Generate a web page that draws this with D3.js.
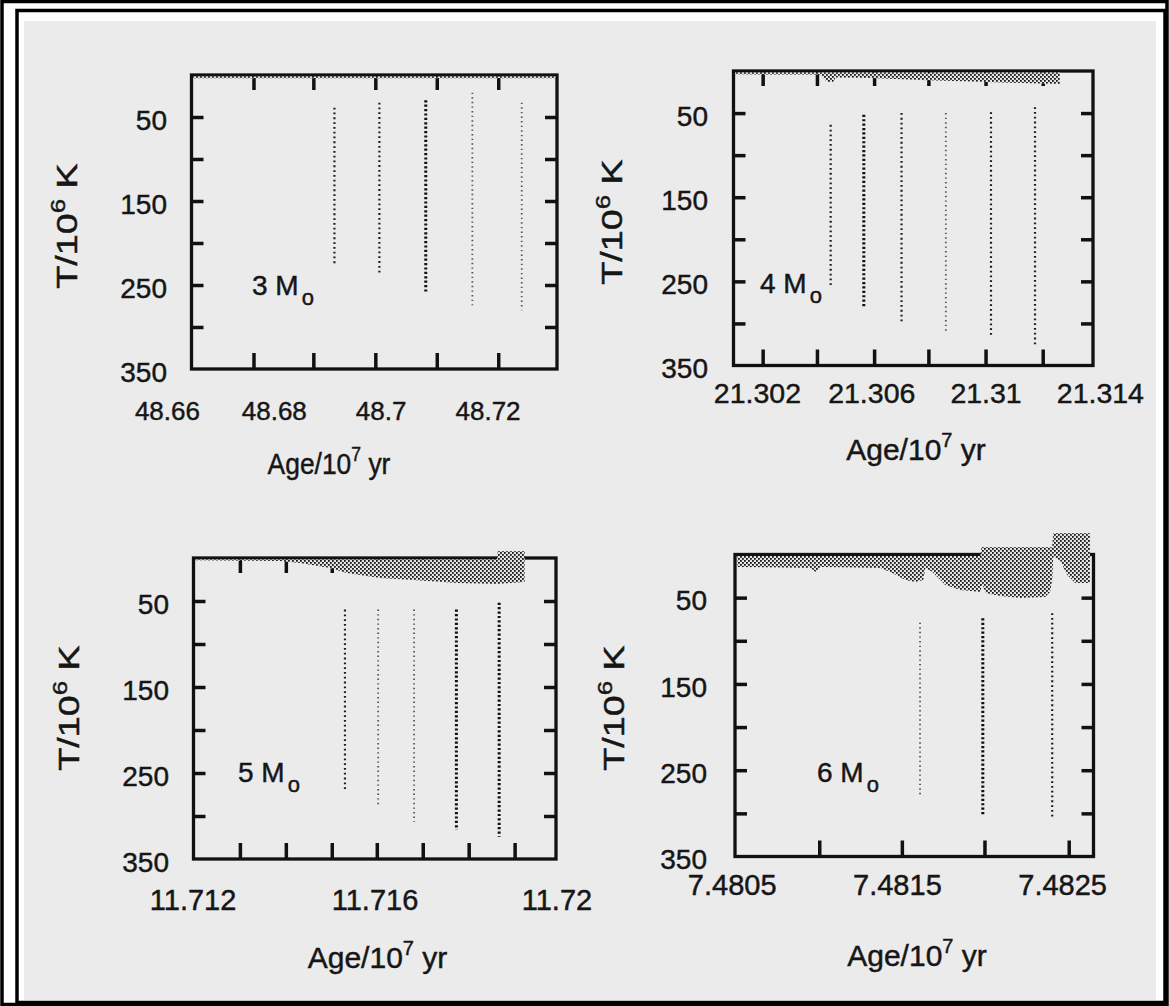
<!DOCTYPE html>
<html><head><meta charset="utf-8">
<script src="https://cdn.jsdelivr.net/npm/d3@7"></script>
<style>
body{margin:0;background:#fff}
svg{display:block}
text{font-family:"Liberation Sans",Arial,Helvetica,sans-serif;fill:#161616;stroke:#161616;stroke-width:0.45px}
</style>
</head><body>
<script>
// ---------------- DATA ----------------
const masses = ["3", "4", "5", "6"];
const yTickMarks = [50, 100, 150, 200, 250, 300];
const yTickLabels = [50, 150, 250, 350];

// panel 1 : 3 Msun
const xTickLabels1 = [48.66, 48.68, 48.70, 48.72];
const xTickMarks1 = [48.6762, 48.6874, 48.6990, 48.7105, 48.7220];
const lines1Age = [48.69135, 48.69976, 48.70844, 48.71716, 48.72640];
const lines1Top = [39, 33, 30, 21, 33];
const lines1Bot = [224, 236, 260, 274, 280];
const lines1Kind = ["m", "m", "b", "f", "f"];
const shade1Age = [48.6649, 48.7327];
const shade1Top = [0, 0];
const shade1Bot = [4, 4];

// panel 2 : 4 Msun
const xTickLabels2 = [21.302, 21.306, 21.310, 21.314];
const xTickMarks2 = [21.3022, 21.3041, 21.3061, 21.3080, 21.3100, 21.3120];
const lines2Age = [21.30458, 21.30574, 21.30706, 21.30861, 21.31019, 21.31173];
const lines2Top = [64, 52, 50, 50, 49, 43];
const lines2Bot = [258, 280, 298, 310, 316, 326];
const lines2Kind = ["m", "b", "m", "f", "m", "m"];
const shade2Age = [21.30124, 21.30420, 21.30431, 21.30445, 21.30466, 21.30476, 21.30595, 21.30770, 21.31005, 21.31180, 21.31260];
const shade2Top = [0, 0, 0, 0, 0, 0, 0, 0, 0, 0, 0];
const shade2Bot = [4, 4.2, 7.7, 13, 13, 7.7, 8.3, 10.7, 13, 14.9, 15.5];

// panel 3 : 5 Msun
const xTickLabels3 = [11.712, 11.716, 11.720];
const xTickMarks3 = [11.71304, 11.71405, 11.71506, 11.71605, 11.71706, 11.71807, 11.71908];
const lines3Age = [11.71535, 11.71608, 11.71687, 11.71780, 11.71874];
const lines3Top = [60, 60, 60, 60, 52];
const lines3Bot = [272, 290, 307, 316, 324];
const lines3Kind = ["m", "f", "f", "b", "b"];
const shade3Age = [11.71206, 11.71392, 11.71436, 11.71502, 11.71539, 11.71612, 11.71684, 11.71781, 11.71869, 11.71871, 11.71930];
const shade3Top = [0, 0, 0, 0, 0, 0, 0, 0, 0, -8, -8];
const shade3Bot = [2.5, 3.5, 5.8, 11.6, 17.4, 23.3, 25.6, 29, 30.2, 30.2, 27.9];

// panel 4 : 6 Msun
const xTickLabels4 = [7.4805, 7.4815, 7.4825];
const xTickMarks4 = [7.48103, 7.48153, 7.48203, 7.48254];
const lines4Age = [7.48164, 7.48202, 7.48244];
const lines4Top = [79, 74, 68];
const lines4Bot = [281, 302, 305];
const lines4Kind = ["f", "b", "m"];
const shade4Age = [7.480535, 7.480977, 7.481008, 7.481038, 7.481400, 7.481461, 7.481551, 7.481612, 7.481660, 7.481672, 7.481715, 7.481793, 7.481884, 7.482005, 7.482011, 7.482017, 7.482040, 7.482125, 7.482246, 7.482397, 7.482427, 7.482440, 7.482446, 7.482488, 7.482530, 7.482579, 7.482669];
const shade4Top = [0, 0, 0, 0, 0, 0, 0, 0, 0, 0, 0, 0, 0, 0, -8.7, -8.7, -8.7, -8.7, -8.7, -8.7, -8.7, -8.7, -24.9, -24.9, -24.9, -24.9, -24.9];
const shade4Bot = [14.5, 15.6, 20.3, 14.5, 15.6, 20.3, 29.6, 31.9, 29.6, 15.6, 20.3, 35.3, 41.1, 43.5, 38, 35, 45, 48.1, 50.4, 49.3, 43.5, 30, 2.9, 7, 23.5, 33, 33];

// ---------------- LAYOUT ----------------
const layouts = [
  {box: [191.5, 557, 75, 369], xDom: [48.6646, 48.7330], lblY: 420, lblFs: 26, ttl: [329, 474, 0.88], yTtl: [77, 226], yLblR: 167, massXY: [252, 295], topTicks: true},
  {box: [733.5, 1093, 71, 365.5], xDom: [21.30118, 21.31376], lblY: 403, lblFs: 28.5, ttl: [916, 460, 1.0], yTtl: [622, 222], yLblR: 708, massXY: [760, 293], topTicks: true},
  {box: [193.5, 556, 558, 859], xDom: [11.71202, 11.71999], lblY: 910, lblFs: 29, ttl: [377.5, 968, 1.0], yTtl: [79, 708], yLblR: 169, massXY: [238, 782], topTicks: true},
  {box: [735, 1093.5, 554.5, 856.5], xDom: [7.48052, 7.48269], lblY: 895, lblFs: 29, ttl: [917, 966, 1.0], yTtl: [624, 708], yLblR: 707, massXY: [817, 782], topTicks: false}
];

const panels = [
  {xLabels: xTickLabels1, xMarks: xTickMarks1, la: lines1Age, lt: lines1Top, lb: lines1Bot, lk: lines1Kind, sa: shade1Age, st: shade1Top, sb: shade1Bot},
  {xLabels: xTickLabels2, xMarks: xTickMarks2, la: lines2Age, lt: lines2Top, lb: lines2Bot, lk: lines2Kind, sa: shade2Age, st: shade2Top, sb: shade2Bot},
  {xLabels: xTickLabels3, xMarks: xTickMarks3, la: lines3Age, lt: lines3Top, lb: lines3Bot, lk: lines3Kind, sa: shade3Age, st: shade3Top, sb: shade3Bot},
  {xLabels: xTickLabels4, xMarks: xTickMarks4, la: lines4Age, lt: lines4Top, lb: lines4Bot, lk: lines4Kind, sa: shade4Age, st: shade4Top, sb: shade4Bot}
];

const dotStyle = {
  b: {stroke: "#111", width: 3, dash: "2.2 2.2"},
  m: {stroke: "#1e1e1e", width: 2.2, dash: "1.8 3"},
  f: {stroke: "#555", width: 1.8, dash: "1.4 3.2"}
};

// ---------------- DRAW ----------------
const W = 1169, H = 1006;
const svg = d3.select("body").append("svg").attr("width", W).attr("height", H);
svg.append("rect").attr("width", W).attr("height", H).attr("fill", "#fff");
svg.append("rect").attr("x", 24).attr("y", 21).attr("width", 1132).attr("height", 979).attr("fill", "#ebebeb");
svg.append("rect").attr("x", 2).attr("y", 1.5).attr("width", 1165).attr("height", 1003)
  .attr("fill", "none").attr("stroke", "#000").attr("stroke-width", 3.5);
svg.append("rect").attr("x", 17).attr("y", 10.5).attr("width", 1148).attr("height", 992)
  .attr("fill", "none").attr("stroke", "#000").attr("stroke-width", 3.5);

const defs = svg.append("defs");
const pat = defs.append("pattern").attr("id", "dots").attr("patternUnits", "userSpaceOnUse")
  .attr("width", 4).attr("height", 4);
pat.append("rect").attr("width", 4).attr("height", 4).attr("fill", "#e4e4e4");
pat.append("rect").attr("x", 0).attr("y", 0).attr("width", 1.8).attr("height", 1.8).attr("fill", "#1a1a1a");
pat.append("rect").attr("x", 2).attr("y", 2).attr("width", 1.8).attr("height", 1.8).attr("fill", "#1a1a1a");

function tickOnly(sel) {
  sel.attr("font-size", null).attr("font-family", null);
  sel.select(".domain").remove();
  sel.selectAll("text").remove();
  sel.selectAll("line").attr("stroke", "#111").attr("stroke-width", 3.5);
}

panels.forEach((p, i) => {
  const L = layouts[i];
  const [l, r, t, b] = L.box;
  const x = d3.scaleLinear().domain(L.xDom).range([l, r]);
  const y = d3.scaleLinear().domain([0, 350]).range([t, b]);
  const g = svg.append("g");

  // frame
  g.append("rect").attr("x", l).attr("y", t).attr("width", r - l).attr("height", b - t)
    .attr("fill", "none").attr("stroke", "#111").attr("stroke-width", 3.3);

  // tick marks
  g.append("g").attr("transform", `translate(${l},0)`)
    .call(d3.axisLeft(y).tickValues(yTickMarks).tickSizeInner(-12).tickSizeOuter(0)).call(tickOnly);
  g.append("g").attr("transform", `translate(${r},0)`)
    .call(d3.axisRight(y).tickValues(yTickMarks).tickSizeInner(-12).tickSizeOuter(0)).call(tickOnly);
  g.append("g").attr("transform", `translate(0,${b})`)
    .call(d3.axisBottom(x).tickValues(p.xMarks).tickSizeInner(-16).tickSizeOuter(0)).call(tickOnly);
  if (L.topTicks) {
    g.append("g").attr("transform", `translate(0,${t})`)
      .call(d3.axisTop(x).tickValues(p.xMarks).tickSizeInner(-15).tickSizeOuter(0)).call(tickOnly);
  }

  // convective shading
  const area = d3.area()
    .x(d => x(d.a))
    .y0(d => d.t < 0 ? y(d.t) : y(0) + 1.6)
    .y1(d => y(d.b));
  g.append("path")
    .datum(p.sa.map((a, k) => ({a, t: p.st[k], b: p.sb[k]})))
    .attr("d", area).attr("fill", "url(#dots)");

  // dotted vertical lines
  g.selectAll("line.burn").data(p.la.map((a, k) => ({a, t: p.lt[k], b: p.lb[k], s: dotStyle[p.lk[k]]})))
    .join("line").attr("class", "burn")
    .attr("x1", d => x(d.a)).attr("x2", d => x(d.a))
    .attr("y1", d => y(d.t)).attr("y2", d => y(d.b))
    .attr("stroke", d => d.s.stroke).attr("stroke-width", d => d.s.width)
    .attr("stroke-dasharray", d => d.s.dash);

  // y tick labels
  const yl = g.append("g").attr("transform", `translate(${l},0)`)
    .call(d3.axisLeft(y).tickValues(yTickLabels).tickSize(0).tickPadding(l - L.yLblR));
  yl.attr("font-size", null).attr("font-family", null);
  yl.select(".domain").remove();
  yl.selectAll("text").attr("font-size", 28).attr("dy", "0.44em").attr("fill", "#161616");

  // x tick labels
  const xl = g.append("g").attr("transform", `translate(0,${L.lblY})`)
    .call(d3.axisBottom(x).tickValues(p.xLabels).tickSize(0).tickFormat(d => String(d)));
  xl.attr("font-size", null).attr("font-family", null);
  xl.select(".domain").remove();
  xl.selectAll("text").attr("y", 0).attr("dy", 0).attr("font-size", L.lblFs).attr("fill", "#161616");

  // x title
  const xt = g.append("text")
    .attr("transform", `translate(${L.ttl[0]},${L.ttl[1]}) scale(${L.ttl[2]},1)`)
    .attr("text-anchor", "middle").attr("font-size", 30);
  xt.append("tspan").text("Age/10");
  xt.append("tspan").text("7").attr("font-size", 20).attr("dy", -13);
  xt.append("tspan").text(" yr").attr("dy", 13);

  // y title
  const yt = g.append("text")
    .attr("transform", `translate(${L.yTtl[0]},${L.yTtl[1]}) rotate(-90) scale(1.3,1)`)
    .attr("text-anchor", "middle").attr("font-size", 29);
  yt.append("tspan").text("T/10");
  yt.append("tspan").text("6").attr("font-size", 20).attr("dy", -12);
  yt.append("tspan").text(" K").attr("dy", 12);

  // mass label
  const ml = g.append("text").attr("x", L.massXY[0]).attr("y", L.massXY[1]).attr("font-size", 28);
  ml.append("tspan").text(masses[i] + " M");
  ml.append("tspan").text("o").attr("font-size", 22).attr("dx", 3).attr("dy", 10);
});
</script>
</body></html>
